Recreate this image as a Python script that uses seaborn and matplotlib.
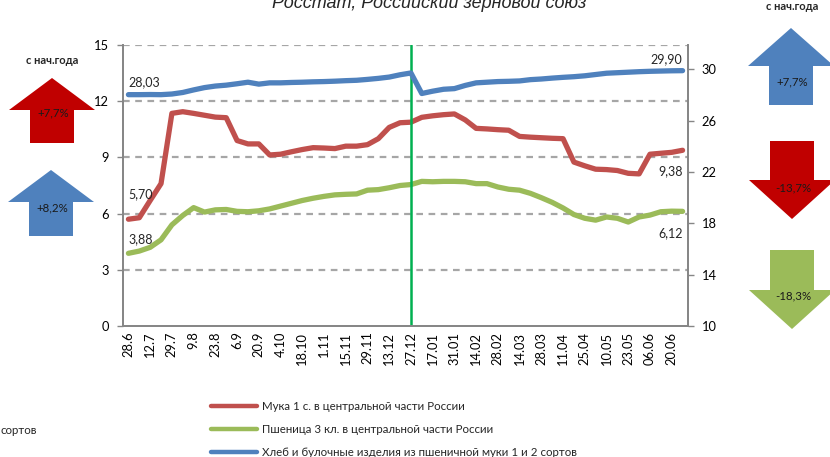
import matplotlib
matplotlib.use("Agg")
import matplotlib.pyplot as plt
from matplotlib.patches import Polygon
from matplotlib.lines import Line2D
import seaborn as sns
import pandas as pd

# --- data ---
tick_labels = ["28.6", "12.7", "29.7", "9.8", "23.8", "6.9", "20.9", "4.10", "18.10",
               "1.11", "15.11", "29.11", "13.12", "27.12", "17.01", "31.01", "14.02",
               "28.02", "14.03", "28.03", "11.04", "25.04", "10.05", "23.05", "06.06",
               "20.06"]

flour = [5.70, 5.78, 6.70, 7.60, 11.35, 11.44, 11.35, 11.25, 11.15, 11.12, 9.90, 9.72,
         9.72, 9.13, 9.17, 9.30, 9.42, 9.52, 9.50, 9.47, 9.60, 9.60, 9.68, 10.00, 10.60,
         10.85, 10.88, 11.14, 11.22, 11.28, 11.32, 11.00, 10.55, 10.52, 10.48, 10.45,
         10.12, 10.08, 10.05, 10.02, 10.00, 8.75, 8.55, 8.37, 8.35, 8.30, 8.15, 8.12,
         9.17, 9.22, 9.27, 9.38]

wheat = [3.88, 4.00, 4.20, 4.60, 5.40, 5.90, 6.32, 6.08, 6.20, 6.22, 6.12, 6.10, 6.15,
         6.25, 6.40, 6.55, 6.70, 6.82, 6.92, 7.00, 7.03, 7.05, 7.25, 7.28, 7.38, 7.50,
         7.55, 7.72, 7.70, 7.72, 7.72, 7.70, 7.60, 7.60, 7.42, 7.30, 7.25, 7.08, 6.85,
         6.60, 6.30, 5.95, 5.75, 5.65, 5.82, 5.75, 5.55, 5.82, 5.92, 6.10, 6.13, 6.12]

bread = [28.03, 28.03, 28.04, 28.03, 28.08, 28.20, 28.40, 28.58, 28.70, 28.77, 28.88,
         29.00, 28.85, 28.95, 28.95, 28.98, 29.00, 29.03, 29.05, 29.08, 29.12, 29.15,
         29.22, 29.30, 29.40, 29.58, 29.72, 28.12, 28.30, 28.45, 28.50, 28.75, 28.95,
         29.00, 29.05, 29.07, 29.10, 29.20, 29.25, 29.32, 29.38, 29.43, 29.50, 29.60,
         29.70, 29.74, 29.78, 29.82, 29.85, 29.87, 29.89, 29.90]

series_names = ["Мука 1 с. в центральной части России",
                "Пшеница 3 кл. в центральной части России",
                "Хлеб и булочные изделия из пшеничной муки 1 и 2 сортов"]
marker_label = "27.12"

left_arrows = [("+7,7%", "#C00000"), ("+8,2%", "#4F81BD")]
right_arrows = [("+7,7%", "#4F81BD"), ("-13,7%", "#C00000"), ("-18,3%", "#9BBB59")]

RED, GREEN, BLUE = "#C0504D", "#9BBB59", "#4F81BD"
W, H = 830, 457

df = pd.DataFrame({"i": range(len(flour)), "flour": flour, "wheat": wheat, "bread": bread})

sns.set_style("white")
plt.rcParams["font.family"] = ["Lato", "Noto Sans", "DejaVu Sans"]

fig = plt.figure(figsize=(W / 100, H / 100), dpi=100)
ax = fig.add_axes([123 / W, 1 - 326 / H, (688 - 123) / W, (326 - 45) / H])
ax2 = ax.twinx()

sns.lineplot(data=df, x="i", y="flour", ax=ax, color=RED, lw=3.8)
sns.lineplot(data=df, x="i", y="wheat", ax=ax, color=GREEN, lw=3.8)
sns.lineplot(data=df, x="i", y="bread", ax=ax2, color=BLUE, lw=3.8)

n = len(flour)
ax.set_xlim(-0.5, n - 0.5)
ax.set_ylim(0, 15)
ax2.set_ylim(10, 31.9)
ax.set_yticks(range(0, 16, 3))
ax2.set_yticks(range(10, 31, 4))
ax.set_xticks(range(0, n, 2))
ax.set_xticklabels(tick_labels, rotation=90)
ax.set_xticks([k - 0.5 for k in range(n + 1)], minor=True)
for a in (ax, ax2):
    a.set_xlabel("")
    a.set_ylabel("")
for y in range(3, 16, 3):
    ax.axhline(y, color="#A6A6A6", lw=1.6, ls=(0, (3, 2.5)), zorder=0)

ax.axvline(tick_labels.index(marker_label) * 2, color="#00B050", lw=1.8)

for a in (ax, ax2):
    for s in a.spines.values():
        s.set_color("#868686")
        s.set_linewidth(1.3)
    a.spines["top"].set_visible(False)
ax.tick_params(axis="both", which="both", labelsize=9.3, colors="#868686", labelcolor="black")
ax.tick_params(axis="x", which="major", length=0, pad=4)
ax.tick_params(axis="x", which="minor", length=4, width=1, direction="out")
ax.tick_params(axis="y", length=4, width=1, direction="out", left=True, pad=6)
ax2.tick_params(axis="y", labelsize=9.3, length=4, width=1, direction="out", right=True,
                colors="#868686", labelcolor="black", pad=6)

# data labels at start / end
fmt = lambda v: f"{v:.2f}".replace(".", ",")
ax2.annotate(fmt(bread[0]), (0, bread[0]), xytext=(0, 9), textcoords="offset points",
             ha="left", va="center", fontsize=9)
ax.annotate(fmt(flour[0]), (0, flour[0]), xytext=(0, 18), textcoords="offset points",
            ha="left", va="center", fontsize=9)
ax.annotate(fmt(wheat[0]), (0, wheat[0]), xytext=(0, 10), textcoords="offset points",
            ha="left", va="center", fontsize=9)
ax2.annotate(fmt(bread[-1]), (n - 1, bread[-1]), xytext=(0, 8), textcoords="offset points",
             ha="right", va="center", fontsize=9)
ax.annotate(fmt(flour[-1]), (n - 1, flour[-1]), xytext=(0, -15), textcoords="offset points",
            ha="right", va="center", fontsize=9)
ax.annotate(fmt(wheat[-1]), (n - 1, wheat[-1]), xytext=(0, -16), textcoords="offset points",
            ha="right", va="center", fontsize=9)


def fpt(x, y):
    return x / W, 1 - y / H


def arrow(cx, tail, tip, head, color, text, text_y):
    up = tip < tail
    hb = tip + head if up else tip - head
    pts = [(cx - 22, tail), (cx + 22, tail), (cx + 22, hb), (cx + 43, hb), (cx, tip),
           (cx - 43, hb), (cx - 22, hb)]
    fig.patches.append(Polygon([fpt(*p) for p in pts], closed=True, transform=fig.transFigure,
                               facecolor=color, edgecolor="none"))
    fig.text(*fpt(cx + 1, text_y), text, ha="center", va="center", fontsize=8.3,
             color="#1a1a1a")


arrow(52, 143, 78, 32, left_arrows[0][1], left_arrows[0][0], 113)
arrow(51, 236, 170, 32, left_arrows[1][1], left_arrows[1][0], 208)
arrow(791, 105, 28, 38, right_arrows[0][1], right_arrows[0][0], 82)
arrow(792, 141, 219, 39, right_arrows[1][1], right_arrows[1][0], 188)
arrow(792, 250, 329, 39, right_arrows[2][1], right_arrows[2][0], 296)

fig.text(*fpt(52, 61), "с нач.года", ha="center", va="center", fontsize=8, weight="bold")
fig.text(*fpt(792, 6), "с нач.года", ha="center", va="center", fontsize=8, weight="bold")
fig.text(*fpt(429, 8), "Росстат, Российский зерновой союз", ha="center", va="baseline",
         fontsize=13, style="italic", family=["Liberation Sans", "DejaVu Sans"])
fig.text(*fpt(37, 430), "сортов", ha="right", va="center", fontsize=8.3)

handles = [Line2D([], [], color=c, lw=3.2) for c in (RED, GREEN, BLUE)]
fig.legend(handles, series_names, loc="upper left", bbox_to_anchor=fpt(206, 396),
           frameon=False, fontsize=8.3, handlelength=4.0, handletextpad=0.5,
           labelspacing=1.05, borderaxespad=0)

fig.savefig("out.png", dpi=100)
